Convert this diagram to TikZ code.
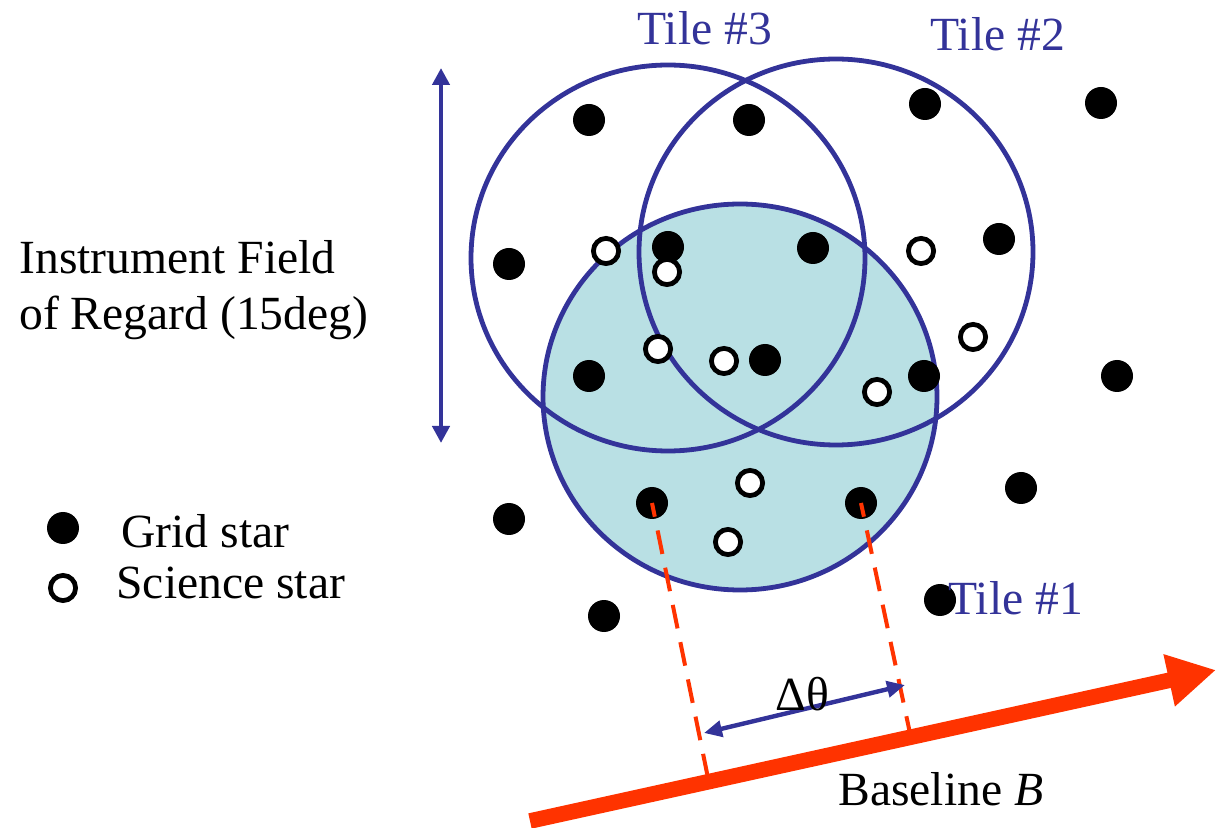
\documentclass[tikz,border=0pt]{standalone}
\usepackage{fontspec}
\setmainfont{Liberation Serif}
\usetikzlibrary{arrows.meta,shapes.geometric}
\definecolor{tileblue}{RGB}{51,51,153}
\definecolor{tilefill}{RGB}{185,224,228}
\definecolor{basered}{RGB}{255,51,0}
\begin{document}
\begin{tikzpicture}[x=0.5pt,y=-0.5pt,
  tile/.style={ellipse, draw=tileblue, line width=2.4pt, minimum width=197pt, minimum height=193pt, inner sep=0pt},
  gridstar/.style={circle, fill=black, minimum size=16pt, inner sep=0pt},
  scistar/.style={circle, draw=black, fill=white, line width=2.4pt, minimum size=12.6pt, inner sep=0pt},
  lbl/.style={font=\fontsize{23.8pt}{28pt}\selectfont, inner sep=0pt, anchor=base west},
  tilelbl/.style={lbl, text=tileblue},
  fieldarrow/.style={draw=tileblue, line width=2.2pt, {Triangle[width=8.5pt,length=8.5pt]}-{Triangle[width=8.5pt,length=8.5pt]}},
  dtarrow/.style={draw=tileblue, line width=2.2pt, {Triangle[width=8pt,length=9pt]}-{Triangle[width=8pt,length=9pt]}},
  projline/.style={draw=basered, line width=2pt, dash pattern=on 12pt off 7pt, dash phase=5pt},
  basearrow/.style={draw=basered, line width=7.8pt, -{Triangle[width=25pt,length=24pt]}}
]
\useasboundingbox (0,0) rectangle (1216,828);

% tiles
\node[tile, fill=tilefill] (t1) at (740,397) {};
\node[tile] (t3) at (668,258) {};
\node[tile] (t2) at (836,252) {};

% grid stars
\node[gridstar] (g1) at (589,120) {};
\node[gridstar] (g2) at (749,120) {};
\node[gridstar] (g3) at (925,104) {};
\node[gridstar] (g4) at (1101,103) {};
\node[gridstar] (g5) at (509,264) {};
\node[gridstar] (g6) at (668,247) {};
\node[gridstar] (g7) at (813,248) {};
\node[gridstar] (g8) at (999,239) {};
\node[gridstar] (g9) at (589,376) {};
\node[gridstar] (g10) at (765,360) {};
\node[gridstar] (g11) at (924,376) {};
\node[gridstar] (g12) at (1117,376) {};
\node[gridstar] (g13) at (509,519) {};
\node[gridstar] (g14) at (652,503) {};
\node[gridstar] (g15) at (861,503) {};
\node[gridstar] (g16) at (1021,488) {};
\node[gridstar] (g17) at (604,616) {};
\node[gridstar] (g18) at (940,600) {};

% science stars
\node[scistar] (s1) at (606,251) {};
\node[scistar] (s2) at (667,272) {};
\node[scistar] (s3) at (921,251) {};
\node[scistar] (s4) at (973,337) {};
\node[scistar] (s5) at (658,349) {};
\node[scistar] (s6) at (724,361) {};
\node[scistar] (s7) at (877,392) {};
\node[scistar] (s8) at (750,483) {};
\node[scistar] (s9) at (728,542) {};

% field of regard arrow
\coordinate (ftop) at (441,68);
\coordinate (fbot) at (441,443);
\draw[fieldarrow] (ftop) -- (fbot);

% baseline
\coordinate (bstart) at (530,821);
\coordinate (btip) at (1216,670);
\draw[basearrow] (bstart) -- (btip);

% projections
\coordinate (p1) at (708,778);
\coordinate (p2) at (911,738);
\draw[projline] (g14.center) -- (p1);
\draw[projline] (g15.center) -- (p2);

% delta theta
\coordinate (dl) at (704,733);
\coordinate (dr) at (905,685);
\draw[dtarrow] (dl) -- (dr);
\node[lbl] (dtlbl) at (775,710) {Δθ};

% labels
\node[tilelbl] (l3) at (637,45) {Tile \#3};
\node[tilelbl] (l2) at (930,51) {Tile \#2};
\node[tilelbl] (l1) at (948,614) {Tile \#1};
\node[lbl] (bl) at (838,805) {Baseline \textit{B}};
\node[lbl] (f1) at (19,274) {Instrument Field};
\node[lbl] (f2) at (19,330) {of Regard (15deg)};

% legend
\node[gridstar] (lg) at (63,528) {};
\node[scistar] (ls) at (63,588) {};
\node[lbl] (lgt) at (121,548) {Grid star};
\node[lbl] (lst) at (116,598) {Science star};
\end{tikzpicture}
\end{document}
